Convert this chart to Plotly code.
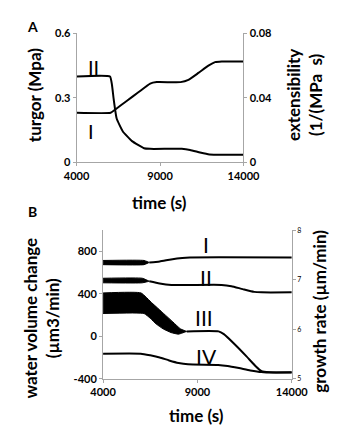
import plotly.graph_objects as go

W, H = 340, 430

# ---------------- Panel A data ----------------
time_A_turgor = [4000, 6000, 6120, 6220, 6400, 6770, 7320, 8040, 8400, 10300, 10800, 11400, 11960, 12400, 14000]
turgor_II = [0.40, 0.40, 0.36, 0.295, 0.204, 0.144, 0.099, 0.066, 0.063, 0.063, 0.058, 0.046, 0.037, 0.036, 0.036]

time_A_ext = [4000, 6040, 6300, 7000, 7700, 8410, 8800, 10230, 10700, 11300, 11900, 12300, 12700, 14000]
extensibility_I = [0.0308, 0.0308, 0.0327, 0.0381, 0.0435, 0.0489, 0.0498, 0.0498, 0.0512, 0.0555, 0.0600, 0.0622, 0.0626, 0.0626]

# ---------------- Panel B data ----------------
# I and II: growth rate (right axis); oscillation envelope then line
bandI_time = [4000, 6170, 6450]
bandI_upper = [7.39, 7.39, 7.35]
bandI_lower = [7.305, 7.305, 7.35]
lineI_time = [6450, 7000, 7600, 8200, 8600, 14000]
lineI_rate = [7.35, 7.37, 7.41, 7.44, 7.45, 7.45]

bandII_time = [4000, 6080, 6450]
bandII_upper = [7.03, 7.03, 6.97]
bandII_lower = [6.938, 6.938, 6.97]
lineII_time = [6450, 7000, 7620, 10280, 10800, 11400, 12000, 12400, 14000]
lineII_rate = [6.97, 6.925, 6.896, 6.896, 6.87, 6.81, 6.755, 6.745, 6.745]

# III and IV: water volume change (left axis)
bandIII_upper_time = [4000, 6010, 6600, 7200, 7700, 8100, 8430]
bandIII_upper = [409, 409, 313, 216, 135, 70, 46]
bandIII_lower_time = [4000, 6170, 6500, 6820, 7200, 7620, 8000, 8430]
bandIII_lower = [215, 215, 170, 115, 68, 34, 20, 46]
lineIII_time = [8430, 10120, 10400, 11000, 11600, 12100, 12400, 12800, 14000]
lineIII_vol = [46, 46, 20, -80, -190, -285, -330, -340, -340]

lineIV_time = [4000, 6000, 6500, 7000, 7500, 8000, 8500, 10100, 10600, 11200, 11800, 12400, 13000, 14000]
lineIV_vol = [-164, -164, -180, -200, -228, -252, -265, -270, -280, -300, -322, -338, -342, -342]

x_ticks = [4000, 9000, 14000]
x_labels = ["4000", "9000", "14000"]
turgor_ticks = [0, 0.3, 0.6]
turgor_labels = ["0", "0.3", "0.6"]
ext_ticks = [0, 0.04, 0.08]
ext_labels = ["0", "0.04", "0.08"]
vol_ticks = [-400, 0, 400, 800]
vol_labels = ["-400", "0", "400", "800"]
rate_ticks = [5, 6, 7, 8]
rate_labels = ["5", "6", "7", "8"]

FONT = "Lato"
AX = "#a6a6a6"

def b(lst):
    return ["<b>%s</b>" % s for s in lst]

fig = go.Figure()

line_spec = dict(color="black", width=2, shape="spline", smoothing=0.4)
fig.add_trace(go.Scatter(x=time_A_turgor, y=turgor_II, mode="lines", line=line_spec, xaxis="x", yaxis="y"))
fig.add_trace(go.Scatter(x=time_A_ext, y=extensibility_I, mode="lines", line=line_spec, xaxis="x", yaxis="y2"))

def band(t_up, up, t_lo, lo, ya):
    fig.add_trace(go.Scatter(x=list(t_up) + list(t_lo)[::-1], y=list(up) + list(lo)[::-1],
                             mode="lines", fill="toself", fillcolor="black",
                             line=dict(color="black", width=1, shape="spline", smoothing=0.4),
                             xaxis="x2", yaxis=ya))

lineB = dict(color="black", width=2, shape="spline", smoothing=0.5)
band(bandI_time, bandI_upper, bandI_time, bandI_lower, "y4")
fig.add_trace(go.Scatter(x=lineI_time, y=lineI_rate, mode="lines", line=lineB, xaxis="x2", yaxis="y4"))
band(bandII_time, bandII_upper, bandII_time, bandII_lower, "y4")
fig.add_trace(go.Scatter(x=lineII_time, y=lineII_rate, mode="lines", line=lineB, xaxis="x2", yaxis="y4"))
band(bandIII_upper_time, bandIII_upper, bandIII_lower_time, bandIII_lower, "y3")
fig.add_trace(go.Scatter(x=lineIII_time, y=lineIII_vol, mode="lines", line=lineB, xaxis="x2", yaxis="y3"))
fig.add_trace(go.Scatter(x=lineIV_time, y=lineIV_vol, mode="lines", line=lineB, xaxis="x2", yaxis="y3"))

tickfont = dict(family=FONT, size=11, color="black")
common = dict(showline=True, linecolor=AX, linewidth=1, ticks="outside", ticklen=3, tickcolor=AX,
              showgrid=False, zeroline=False, tickfont=tickfont, fixedrange=True)

fig.update_layout(
    width=W, height=H, margin=dict(l=0, r=0, t=0, b=0),
    paper_bgcolor="white", plot_bgcolor="white", showlegend=False,
    xaxis=dict(domain=[61 / W, 244 / W], anchor="y", range=[4000, 14000], tickvals=x_ticks,
               ticktext=b(x_labels), **common),
    yaxis=dict(domain=[1 - 152 / H, 1 - 19 / H], anchor="x", range=[0, 0.6], tickvals=turgor_ticks,
               ticktext=b(turgor_labels), **common),
    yaxis2=dict(overlaying="y", side="right", anchor="x", range=[0, 0.08], tickvals=ext_ticks,
                ticktext=b(ext_labels), **common),
    xaxis2=dict(domain=[90 / W, 297 / W], anchor="y3", range=[4000, 14000], tickvals=x_ticks,
                ticktext=b(x_labels), **common),
    yaxis3=dict(domain=[1 - 375 / H, 1 - 222 / H], anchor="x2", range=[-400, 1000], tickvals=vol_ticks,
                ticktext=b(vol_labels), **common),
    yaxis4=dict(overlaying="y3", side="right", anchor="x2", range=[5, 8], tickvals=rate_ticks,
                ticktext=rate_labels,
                **{**common, "tickfont": dict(family=FONT, size=7, color="black")}),
)

def px_ann(text, x, y, size, angle=0):
    fig.add_annotation(text=text, x=x / W, y=1 - y / H, xref="paper", yref="paper",
                       showarrow=False, textangle=angle, xanchor="center", yanchor="middle",
                       font=dict(family=FONT, size=size, color="black"))

def data_ann(text, x, y, xr, yr, size=20):
    fig.add_annotation(text=text, x=x, y=y, xref=xr, yref=yr, showarrow=False,
                       xanchor="center", yanchor="middle",
                       font=dict(family=FONT, size=size, color="black"))

# Panel letters
px_ann("<b>A</b>", 13, 12, 14)
px_ann("<b>B</b>", 13, 203, 14)

# Axis titles panel A
px_ann("<b>turgor (Mpa)</b>", 15, 83, 17, angle=-90)
px_ann("<b>extensibility<br>(1/(MPa  s)</b>", 311, 83, 17, angle=-90)
px_ann("<b>time (s)</b>", 152, 193, 17)

# Axis titles panel B
px_ann("<b>water volume change<br>(µm3/min)</b>", 23, 312, 17, angle=-90)
px_ann("<b>growth rate (µm/min)</b>", 328, 306, 17, angle=-90)
px_ann("<b>time (s)</b>", 193, 413, 17)

# Curve labels
data_ann("II", 5040, 0.444, "x", "y", 20)
data_ann("I", 4875, 0.144, "x", "y", 20)
data_ann("I", 9460, 864, "x2", "y3", 21)
data_ann("II", 9460, 555, "x2", "y3", 21)
data_ann("III", 9360, 173, "x2", "y3", 21)
data_ann("IV", 9460, -191, "x2", "y3", 21)

fig.write_html("out.html")
